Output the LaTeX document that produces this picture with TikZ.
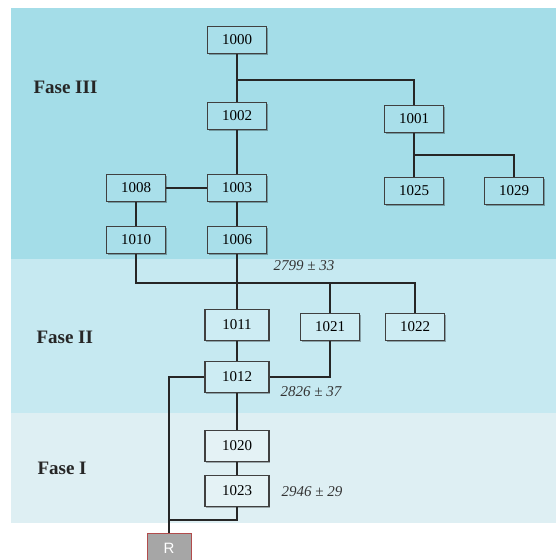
\documentclass[tikz,border=0pt]{standalone}
\usepackage{fontspec}
\setmainfont{Liberation Serif}
\newfontfamily\sansfont{Liberation Sans}
\usetikzlibrary{shadows}
\usetikzlibrary{positioning}
\definecolor{faseiii}{HTML}{A4DDE8}
\definecolor{faseii}{HTML}{C6E9F1}
\definecolor{fasei}{HTML}{DEEFF3}
\definecolor{boxiii}{HTML}{A9DFEA}
\definecolor{boxii}{HTML}{CDECF3}
\definecolor{boxi}{HTML}{E4F2F5}

\begin{document}
\begin{tikzpicture}[
		x=1pt, y=-1pt,
		every node/.style={font=\fontsize{15}{18}\selectfont},
		unit/.style={rectangle, draw=black!75, line width=1.1pt, minimum width=59pt, minimum height=27pt, inner sep=0pt,
				drop shadow={shadow xshift=1.2pt, shadow yshift=-1.2pt, opacity=0.3, fill=black}},
		unitwide/.style={unit, minimum width=64pt, minimum height=31pt},
		phase/.style={anchor=west, font=\fontsize{19}{22}\selectfont\bfseries, text=black!85},
		date/.style={anchor=west, font=\fontsize{15}{18}\selectfont\itshape, text=black!80},
		rbox/.style={rectangle, draw=red!40!gray, line width=0.8pt, fill=black!35, text=white, minimum width=44pt, minimum height=29pt, inner sep=0pt, font=\fontsize{15}{18}\sansfont},
		link/.style={line width=2pt, black!85}
	]

	\useasboundingbox (0,0) rectangle (556,560);

	% Phase bands
	\fill[faseiii] (11,8) rectangle (556,259);
	\fill[faseii] (11,259) rectangle (556,413);
	\fill[fasei] (11,413) rectangle (556,523);
	\node[phase] (fIII) at (30,87) {Fase III};
	\node[phase] (fII) at (33,337) {Fase II};
	\node[phase] (fI) at (34,468) {Fase I};

	% Phase III units
	\foreach \name/\x/\y in {1000/237/40, 1002/237/116, 1003/237/188, 1006/237/240,
			1001/414/119, 1025/414/191, 1029/514/191, 1008/136/188, 1010/136/240}
	\node[unit, fill=boxiii] (n\name) at (\x,\y) {\name};

	% Phase II units
	\node[unitwide, fill=boxii] (n1011) at (237,325) {1011};
	\node[unitwide, fill=boxii] (n1012) at (237,377) {1012};
	\node[unit, fill=boxii] (n1021) at (330,327) {1021};
	\node[unit, fill=boxii] (n1022) at (415,327) {1022};

	% Phase I units
	\node[unitwide, fill=boxi] (n1020) at (237,446) {1020};
	\node[unitwide, fill=boxi] (n1023) at (237,491) {1023};

	% Bedrock
	\node[rbox] (nR) at (169,548) {R};

	% Dates
	\node[date] (d1) at (270,266) {2799 ± 33};
	\node[date] (d2) at (277,392) {2826 ± 37};
	\node[date] (d3) at (278,492) {2946 ± 29};

	% Junctions
	\coordinate (j1) at (237,80);
	\coordinate (j2) at (414,155);
	\coordinate (j3) at (237,283);
	\coordinate (j4) at (169,520);

	% Connectors
	\draw[link] (n1000) -- (n1002);
	\draw[link] (j1) -| (n1001);
	\draw[link] (n1001) -- (n1025);
	\draw[link] (j2) -| (n1029);
	\draw[link] (n1002) -- (n1003);
	\draw[link] (n1008) -- (n1003);
	\draw[link] (n1008) -- (n1010);
	\draw[link] (n1003) -- (n1006);
	\draw[link] (n1010) |- (j3);
	\draw[link] (n1006) -- (n1011);
	\draw[link] (j3) -| (n1022);
	\draw[link] (j3 -| n1021) -- (n1021);
	\draw[link] (n1011) -- (n1012);
	\draw[link] (n1021) |- (n1012);
	\draw[link] (n1012) -| (nR);
	\draw[link] (n1012) -- (n1020);
	\draw[link] (n1020) -- (n1023);
	\draw[link] (n1023) |- (j4);

\end{tikzpicture}
\end{document}
